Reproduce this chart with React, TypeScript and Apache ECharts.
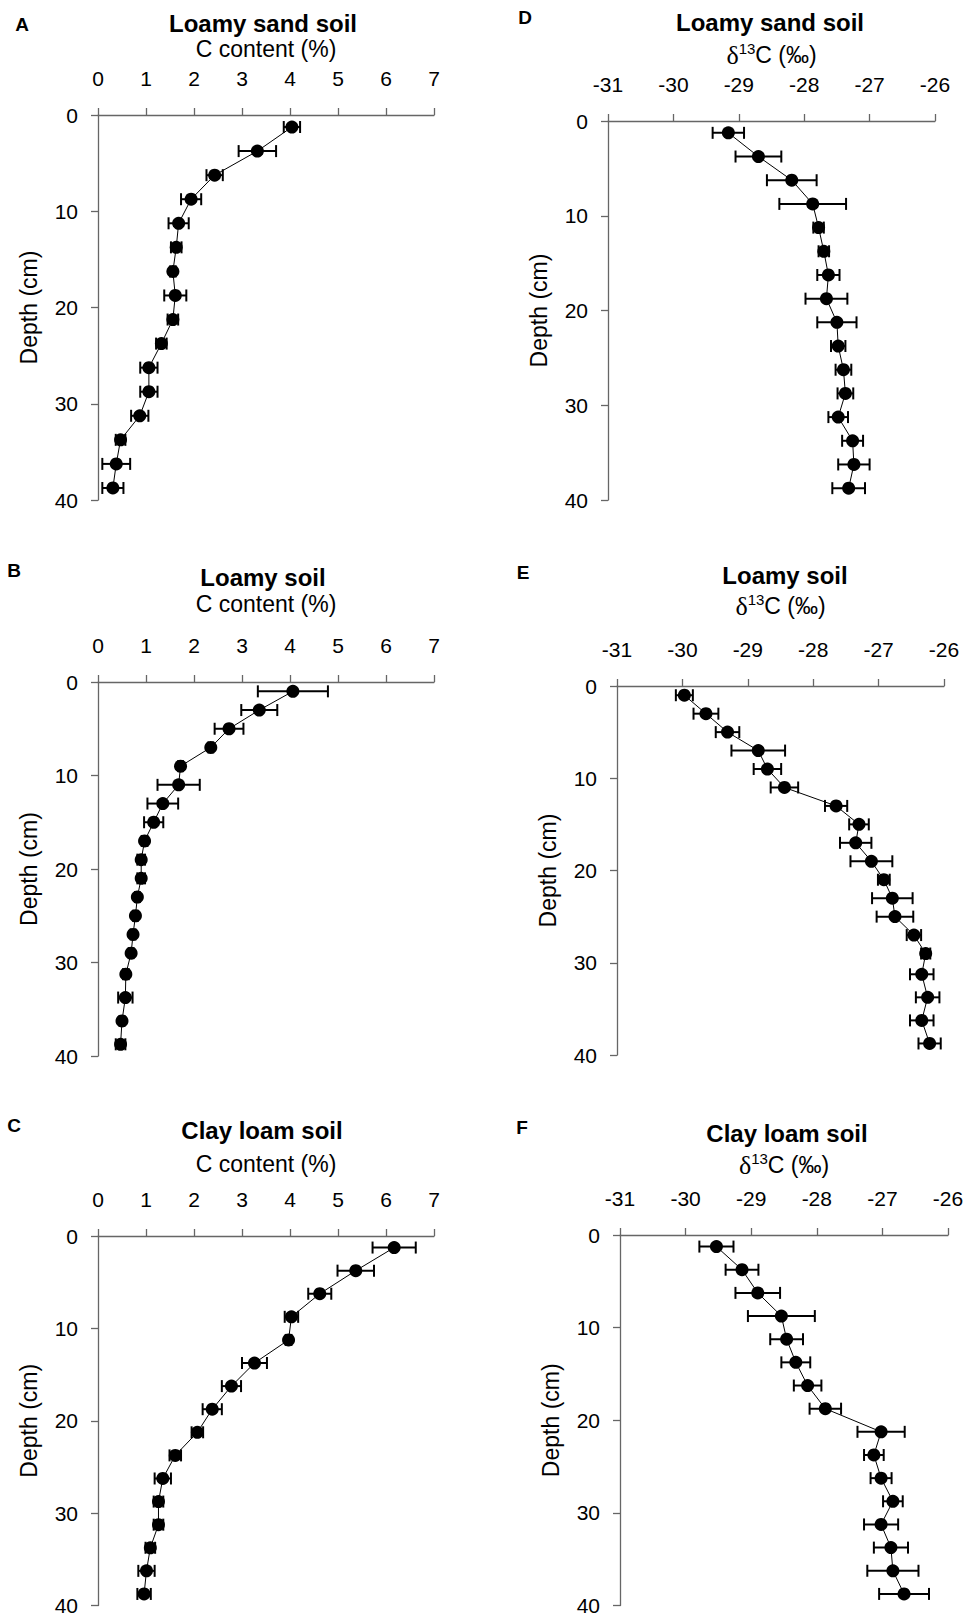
import React, { useEffect, useRef } from "react";
import * as echarts from "echarts";

// Sampling depths (cm)
const depthsQuarter = [1.25, 3.75, 6.25, 8.75, 11.25, 13.75, 16.25, 18.75, 21.25, 23.75, 26.25, 28.75, 31.25, 33.75, 36.25, 38.75];
const depthsLoamy = [1, 3, 5, 7, 9, 11, 13, 15, 17, 19, 21, 23, 25, 27, 29, 31.25, 33.75, 36.25, 38.75];

// C content (%) profiles with error half-widths
const cLoamySand = [4.04, 3.32, 2.43, 1.94, 1.68, 1.63, 1.56, 1.61, 1.56, 1.32, 1.06, 1.06, 0.87, 0.47, 0.38, 0.31];
const cLoamySandErr = [0.17, 0.39, 0.17, 0.21, 0.21, 0.11, 0.06, 0.23, 0.11, 0.11, 0.18, 0.18, 0.18, 0.1, 0.29, 0.22];
const cLoamy = [4.06, 3.36, 2.73, 2.35, 1.72, 1.68, 1.35, 1.16, 0.97, 0.9, 0.9, 0.82, 0.78, 0.73, 0.69, 0.58, 0.57, 0.5, 0.47];
const cLoamyErr = [0.73, 0.375, 0.3, 0.05, 0.05, 0.44, 0.32, 0.2, 0.06, 0.08, 0.08, 0.05, 0.05, 0.05, 0.05, 0.06, 0.15, 0.05, 0.1];
const cClayLoam = [6.17, 5.37, 4.62, 4.03, 3.97, 3.26, 2.78, 2.38, 2.07, 1.61, 1.35, 1.26, 1.26, 1.09, 1.01, 0.96];
const cClayLoamErr = [0.45, 0.38, 0.24, 0.14, 0.06, 0.26, 0.2, 0.2, 0.12, 0.12, 0.17, 0.1, 0.1, 0.1, 0.17, 0.14];

// δ13C (‰) profiles with error half-widths
const dLoamySand = [-29.16, -28.7, -28.19, -27.87, -27.78, -27.7, -27.63, -27.66, -27.5, -27.48, -27.4, -27.37, -27.48, -27.26, -27.24, -27.32];
const dLoamySandErr = [0.24, 0.35, 0.38, 0.51, 0.08, 0.08, 0.17, 0.32, 0.3, 0.11, 0.12, 0.12, 0.15, 0.16, 0.24, 0.25];
const dLoamy = [-29.97, -29.64, -29.31, -28.84, -28.7, -28.44, -27.65, -27.3, -27.35, -27.11, -26.92, -26.79, -26.75, -26.46, -26.28, -26.34, -26.25, -26.34, -26.22];
const dLoamyErr = [0.13, 0.19, 0.18, 0.41, 0.21, 0.21, 0.17, 0.15, 0.24, 0.32, 0.09, 0.31, 0.28, 0.11, 0.07, 0.18, 0.18, 0.18, 0.17];
const dClayLoam = [-29.53, -29.14, -28.9, -28.54, -28.46, -28.32, -28.14, -27.87, -27.02, -27.13, -27.02, -26.84, -27.02, -26.87, -26.84, -26.67];
const dClayLoamErr = [0.26, 0.25, 0.34, 0.51, 0.25, 0.22, 0.21, 0.24, 0.36, 0.15, 0.16, 0.15, 0.26, 0.26, 0.39, 0.38];

const FONT = "'Liberation Sans', Arial, sans-serif";
const SERIF = "'Liberation Serif', 'Times New Roman', serif";

type Panel = {
  letter: string;
  soil: string;
  kind: "c" | "d";
  depths: number[];
  values: number[];
  errors: number[];
  grid: { left: number; top: number; width: number; height: number };
  letterPos: [number, number];
  titlePos: [number, number];
  nameGap: number;
};

const panels: Panel[] = [
  { letter: "A", soil: "Loamy sand soil", kind: "c", depths: depthsQuarter, values: cLoamySand, errors: cLoamySandErr,
    grid: { left: 98, top: 115, width: 336, height: 385 }, letterPos: [22, 24], titlePos: [263, 23], nameGap: 55 },
  { letter: "B", soil: "Loamy soil", kind: "c", depths: depthsLoamy, values: cLoamy, errors: cLoamyErr,
    grid: { left: 98, top: 682, width: 336, height: 374 }, letterPos: [14, 570], titlePos: [263, 577], nameGap: 67 },
  { letter: "C", soil: "Clay loam soil", kind: "c", depths: depthsQuarter, values: cClayLoam, errors: cClayLoamErr,
    grid: { left: 98, top: 1236, width: 336, height: 371 }, letterPos: [14, 1125], titlePos: [262, 1130], nameGap: 61 },
  { letter: "D", soil: "Loamy sand soil", kind: "d", depths: depthsQuarter, values: dLoamySand, errors: dLoamySandErr,
    grid: { left: 608, top: 121, width: 327, height: 379 }, letterPos: [525, 17], titlePos: [770, 22], nameGap: 52 },
  { letter: "E", soil: "Loamy soil", kind: "d", depths: depthsLoamy, values: dLoamy, errors: dLoamyErr,
    grid: { left: 617, top: 686, width: 327, height: 369 }, letterPos: [523, 572], titlePos: [785, 575], nameGap: 66 },
  { letter: "F", soil: "Clay loam soil", kind: "d", depths: depthsQuarter, values: dClayLoam, errors: dClayLoamErr,
    grid: { left: 620, top: 1235, width: 328, height: 373 }, letterPos: [522, 1127], titlePos: [787, 1133], nameGap: 56 },
];

const axisLine = { show: true, onZero: false, lineStyle: { color: "#666", width: 1.3 } };
const axisTick = { show: true, inside: false, length: 7, lineStyle: { color: "#666", width: 1.3 } };

function buildOption() {
  const grid = panels.map((p) => ({ ...p.grid, containLabel: false }));
  const xAxis = panels.map((p, i) => ({
    type: "value",
    gridIndex: i,
    position: "top",
    min: p.kind === "c" ? 0 : -31,
    max: p.kind === "c" ? 7 : -26,
    interval: 1,
    splitLine: { show: false },
    axisLine,
    axisTick,
    axisLabel: { margin: 26, fontSize: 21, color: "#000", fontFamily: FONT },
    name: p.kind === "c" ? "C content (%)" : "{d|δ}{s|13}{a|C (‰)}",
    nameLocation: "middle",
    nameGap: p.nameGap,
    nameTextStyle: {
      fontSize: 23,
      color: "#000",
      fontFamily: FONT,
      rich: {
        d: { fontSize: 26, lineHeight: 28, color: "#000", fontFamily: SERIF },
        a: { fontSize: 23, lineHeight: 28, color: "#000", fontFamily: FONT },
        s: { fontSize: 15, lineHeight: 15, color: "#000", fontFamily: FONT, verticalAlign: "top" },
      },
    },
  }));
  const yAxis = panels.map((p, i) => ({
    type: "value",
    gridIndex: i,
    inverse: true,
    min: 0,
    max: 40,
    interval: 10,
    splitLine: { show: false },
    axisLine,
    axisTick,
    axisLabel: { margin: 20, fontSize: 21, color: "#000", fontFamily: FONT },
    name: "Depth (cm)",
    nameLocation: "middle",
    nameGap: 58,
    nameTextStyle: { fontSize: 23, color: "#000", fontFamily: FONT },
  }));

  const series: any[] = [];
  panels.forEach((p, i) => {
    // horizontal error bars with end caps
    series.push({
      type: "custom",
      xAxisIndex: i,
      yAxisIndex: i,
      z: 2,
      data: p.values.map((v, k) => [v - p.errors[k], v + p.errors[k], p.depths[k]]),
      encode: { x: [0, 1], y: 2 },
      renderItem: (_params: any, api: any) => {
        const lo = api.coord([api.value(0), api.value(2)]);
        const hi = api.coord([api.value(1), api.value(2)]);
        const h = 6;
        const style = { stroke: "#000", lineWidth: 2 };
        return {
          type: "group",
          children: [
            { type: "line", shape: { x1: lo[0], y1: lo[1], x2: hi[0], y2: hi[1] }, style },
            { type: "line", shape: { x1: lo[0], y1: lo[1] - h, x2: lo[0], y2: lo[1] + h }, style },
            { type: "line", shape: { x1: hi[0], y1: hi[1] - h, x2: hi[0], y2: hi[1] + h }, style },
          ],
        };
      },
    });
    // profile line with filled circle markers
    series.push({
      type: "line",
      xAxisIndex: i,
      yAxisIndex: i,
      z: 3,
      data: p.values.map((v, k) => [v, p.depths[k]]),
      symbol: "circle",
      symbolSize: 13,
      itemStyle: { color: "#000" },
      lineStyle: { color: "#000", width: 1 },
    });
  });

  const graphic: any[] = [];
  panels.forEach((p) => {
    graphic.push({
      type: "text",
      x: p.letterPos[0],
      y: p.letterPos[1],
      style: {
        text: p.letter,
        fill: "#000",
        font: `bold 19px ${FONT}`,
        align: "center",
        verticalAlign: "middle",
        textAlign: "center",
        textVerticalAlign: "middle",
      },
    });
    graphic.push({
      type: "text",
      x: p.titlePos[0],
      y: p.titlePos[1],
      style: {
        text: p.soil,
        fill: "#000",
        font: `bold 24px ${FONT}`,
        align: "center",
        verticalAlign: "middle",
        textAlign: "center",
        textVerticalAlign: "middle",
      },
    });
  });

  return {
    animation: false,
    backgroundColor: "#fff",
    grid,
    xAxis,
    yAxis,
    series,
    graphic,
  };
}

export default function App() {
  const ref = useRef<HTMLDivElement>(null);
  useEffect(() => {
    if (!ref.current) return;
    const chart = echarts.init(ref.current, undefined, { renderer: "svg" });
    chart.setOption(buildOption() as any);
    return () => chart.dispose();
  }, []);
  return (
    <div
      ref={ref}
      style={{ position: "absolute", left: 0, top: 0, width: 967, height: 1616, background: "#fff" }}
    />
  );
}
